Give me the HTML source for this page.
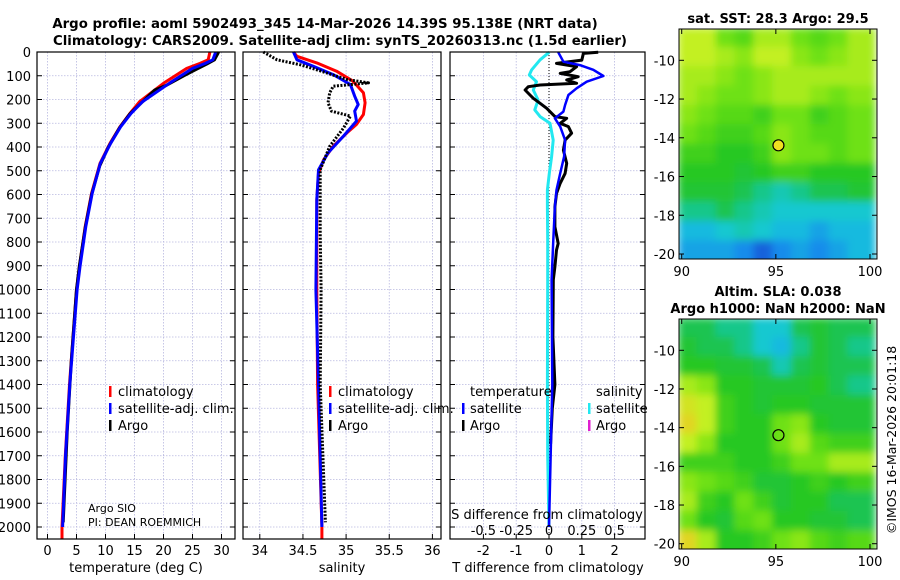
<!DOCTYPE html>
<html><head><meta charset="utf-8">
<style>
html,body{margin:0;padding:0;background:#fff;}
svg{display:block;font-family:"DejaVu Sans","Liberation Sans",sans-serif;}
</style></head>
<body>
<svg id="fig" width="900" height="580" viewBox="0 0 900 580" xmlns="http://www.w3.org/2000/svg">
<defs>
<filter id="blur" x="-10%" y="-10%" width="120%" height="120%"><feGaussianBlur stdDeviation="4" edgeMode="duplicate"/></filter>
<clipPath id="clipA"><rect x="679" y="29" width="198" height="230"/></clipPath>
<clipPath id="clipB"><rect x="679" y="319" width="198" height="230"/></clipPath>
</defs>
<text x="325" y="28" text-anchor="middle" font-size="13.3" font-weight="bold">Argo profile: aoml 5902493_345 14-Mar-2026 14.39S 95.138E (NRT data)</text>
<text x="340" y="45" text-anchor="middle" font-size="13.3" font-weight="bold">Climatology: CARS2009. Satellite-adj clim: synTS_20260313.nc (1.5d earlier)</text>
<text x="778" y="23" text-anchor="middle" font-size="13" font-weight="bold">sat. SST: 28.3 Argo: 29.5</text>
<text x="778" y="296" text-anchor="middle" font-size="13" font-weight="bold">Altim. SLA: 0.038</text>
<text x="778" y="313" text-anchor="middle" font-size="13" font-weight="bold">Argo h1000: NaN h2000: NaN</text>
<text transform="translate(896,440) rotate(-90)" text-anchor="middle" font-size="12.5">©IMOS 16-Mar-2026 20:01:18</text>
<g id="layer"></g>
</svg>
<script>
// ---------- data ----------
const depthTicks=[0,100,200,300,400,500,600,700,800,900,1000,1100,1200,1300,1400,1500,1600,1700,1800,1900,2000];
const tempTicks=[0,5,10,15,20,25,30];
const salTicks=[34,34.5,35,35.5,36];
const salTickLabels=["34","34.5","35","35.5","36"];
const tdiffTicks=[-2,-1,0,1,2];
const sdiffTicks=[-0.5,-0.25,0,0.25,0.5];
const sdiffTickLabels=["-0.5","-0.25","0","0.25","0.5"];

const tClimDepth=[0,33,48,69,132,209,259,315,384,469,595,735,904,1002,1400,1700,2000,2050];
const tClimVal=[28.0,27.7,26.3,24.0,20.0,15.9,14.2,12.5,10.8,9.05,7.6,6.5,5.5,5.0,3.8,3.07,2.5,2.5];
const tSatDepth=[0,33,48,69,132,209,259,315,384,469,595,735,904,1002,1400,1700,2000];
const tSatVal=[29.0,28.5,27.2,25.0,21.0,16.4,14.4,12.6,10.9,9.1,7.7,6.6,5.6,5.1,3.85,3.1,2.6];
const tArgoDepth=[0,10,33,50,75,100,140,160,200,260,320,400,480,600,740,900,1000,1300,1600,1980];
const tArgoVal=[29.5,29.3,28.8,27.5,25.5,23.5,20.5,18.5,16.8,14.2,12.4,10.5,9.0,7.6,6.5,5.5,5.0,4.1,3.4,2.7];

const sClimDepth=[0,18,46,81,123,172,214,263,305,340,397,453,510,622,1002,1400,2000,2050];
const sClimVal=[34.39,34.43,34.66,34.89,35.08,35.20,35.22,35.20,35.12,35.01,34.85,34.74,34.68,34.66,34.66,34.67,34.72,34.72];
const sSatDepth=[0,33,60,95,137,186,221,249,291,354,425,496,622,1002,1400,2000];
const sSatVal=[34.39,34.43,34.62,34.85,35.05,35.10,35.14,35.10,35.12,34.97,34.79,34.68,34.66,34.65,34.68,34.72];
const sArgoDepth=[0,33,54,75,116,130,144,172,214,249,270,320,397,496,763,1002,1400,1980];
const sArgoVal=[34.04,34.20,34.47,34.66,35.01,35.26,34.85,34.81,34.79,34.83,35.05,34.97,34.81,34.70,34.70,34.71,34.70,34.76];

const dTSatDepth=[1,41,55,75,101,125,153,181,223,251,279,314,371,441,511,581,651,792,960,1400,2000];
const dTSatVal=[0.28,0.44,0.94,1.35,1.66,1.15,0.84,0.59,0.49,0.44,0.18,0.34,0.49,0.46,0.34,0.23,0.18,0.13,0.08,0.1,0.0];
const dTArgoDepth=[1,6,34,48,62,83,90,104,118,132,139,146,160,181,195,216,237,272,279,300,314,342,371,413,469,511,553,596,652,736,806,834,904,960,1200,1400,1500,1650];
const dTArgoVal=[1.50,1.05,1.0,0.23,0.84,0.64,0.34,0.89,0.54,0.84,-0.27,-0.63,-0.73,-0.58,-0.48,-0.27,-0.07,0.18,0.54,0.34,0.59,0.69,0.49,0.44,0.54,0.49,0.34,0.23,0.18,0.18,0.28,0.23,0.18,0.13,0.12,0.18,0.1,0.05];
const dSSatDepth=[1,33,75,97,125,160,202,244,272,300,371,441,511,581,651,792,960,1400,1700,2000];
const dSSatVal=[0.002,-0.068,-0.132,-0.15,-0.095,-0.12,-0.083,-0.108,-0.068,0.008,0.032,0.02,0.002,-0.012,-0.012,-0.01,-0.01,-0.012,-0.01,0.0];

const mapLons=[90,91,92,93,94,95,96,97,98,99,100];
const mapLatTop=-8.4, mapLatStep=1;
const sstGrid=[
[0.85,0.85,0.7,0.65,0.8,0.8,0.7,0.65,0.7,0.8],
[0.85,0.85,0.8,0.75,0.85,0.85,0.75,0.7,0.75,0.8],
[0.8,0.8,0.75,0.7,0.75,0.8,0.8,0.8,0.8,0.8],
[0.8,0.75,0.7,0.7,0.75,0.8,0.8,0.75,0.7,0.75],
[0.75,0.7,0.65,0.65,0.6,0.7,0.7,0.6,0.65,0.7],
[0.7,0.65,0.6,0.6,0.65,0.75,0.7,0.65,0.65,0.7],
[0.6,0.6,0.55,0.55,0.6,0.75,0.7,0.7,0.65,0.7],
[0.55,0.55,0.55,0.5,0.55,0.6,0.6,0.55,0.55,0.55],
[0.5,0.5,0.5,0.45,0.4,0.35,0.4,0.45,0.45,0.5],
[0.4,0.4,0.45,0.4,0.35,0.3,0.3,0.3,0.3,0.3],
[0.25,0.25,0.3,0.35,0.3,0.25,0.25,0.2,0.25,0.25],
[0.2,0.2,0.2,0.15,0.08,0.15,0.2,0.15,0.2,0.25]];
const slaGrid=[
[0.45,0.45,0.4,0.4,0.3,0.3,0.45,0.5,0.45,0.45],
[0.5,0.45,0.45,0.4,0.3,0.25,0.4,0.5,0.45,0.4],
[0.55,0.55,0.5,0.5,0.45,0.35,0.45,0.5,0.45,0.45],
[0.8,0.75,0.55,0.55,0.5,0.5,0.5,0.55,0.45,0.4],
[0.9,0.85,0.6,0.55,0.5,0.55,0.55,0.5,0.5,0.5],
[0.95,0.85,0.6,0.55,0.55,0.7,0.75,0.55,0.5,0.5],
[0.85,0.75,0.55,0.55,0.55,0.7,0.8,0.65,0.6,0.6],
[0.6,0.6,0.6,0.55,0.55,0.6,0.7,0.7,0.8,0.8],
[0.75,0.7,0.65,0.6,0.5,0.5,0.55,0.6,0.55,0.6],
[0.8,0.6,0.55,0.7,0.6,0.5,0.55,0.55,0.45,0.45],
[0.7,0.55,0.5,0.65,0.7,0.55,0.55,0.5,0.5,0.45],
[0.95,0.8,0.55,0.55,0.6,0.7,0.75,0.65,0.6,0.65]];
const mapLatTicks=[-10,-12,-14,-16,-18,-20];
const mapLonTicks=[90,95,100];
const argoLon=95.138, argoLat=-14.39;

// ---------- helpers ----------
const NS="http://www.w3.org/2000/svg";
const layer=document.getElementById('layer');
function mk(tag,attrs,parent){const e=document.createElementNS(NS,tag);for(const k in attrs)e.setAttribute(k,attrs[k]);(parent||layer).appendChild(e);return e;}
const PT=52, PB=539;
const yD=d=>PT+d*0.2375;
const xT=t=>47.5+t*5.8;
const xS=s=>259.8+(s-34)*86.3;
const xDT=t=>549+t*32.8;
const xDS=s=>549+s*131.2;

function panel(x0,x1,name){
  const g=mk('g',{});
  
  
  return g;
}
function grid(g,x0,x1,xs){
  xs.forEach(x=>mk('line',{x1:x,x2:x,y1:PT,y2:PB,stroke:'#b8b8e0','stroke-width':0.8,'stroke-dasharray':'1.5,1.5'},g));
  depthTicks.forEach(d=>{const y=yD(d);mk('line',{x1:x0,x2:x1,y1:y,y2:y,stroke:'#b8b8e0','stroke-width':0.8,'stroke-dasharray':'1.5,1.5'},g);
    mk('line',{x1:x0,x2:x0+5,y1:y,y2:y,stroke:'#000'},g);mk('line',{x1:x1-5,x2:x1,y1:y,y2:y,stroke:'#000'},g);});
  xs.forEach(x=>{mk('line',{x1:x,x2:x,y1:PB,y2:PB-5,stroke:'#000'},g);});
}
function frame(g,x0,x1){mk('rect',{x:x0,y:PT,width:x1-x0,height:PB-PT,fill:'none',stroke:'#000','stroke-width':1.2},g);}
function line(g,depths,vals,xf,color,w,name,dash){
  const pts=depths.map((d,i)=>xf(vals[i]).toFixed(1)+','+yD(d).toFixed(1)).join(' ');
  const p=mk('polyline',{points:pts,fill:'none',stroke:color,'stroke-width':w,'stroke-linejoin':'round'},g);
  if(dash)p.setAttribute('stroke-dasharray',dash);
  
  
  return p;
}
function txt(g,x,y,s,size,anchor,name){const t=mk('text',{x:x,y:y,'font-size':size,'text-anchor':anchor||'start'},g);t.textContent=s;
  
  
  return t;}
function legendMark(g,x,y,color){mk('rect',{x:x,y:y-10,width:2.5,height:11,fill:color},g);}

// ---------- panel 1: temperature ----------
const g1=panel(37,235,'temperature-panel');
grid(g1,37,235,tempTicks.map(xT));
line(g1,tClimDepth,tClimVal,xT,'#ff0000',3,'temperature-climatology-line');
line(g1,tArgoDepth,tArgoVal,xT,'#000',3,'temperature-argo-line');
line(g1,tSatDepth,tSatVal,xT,'#0000ff',3,'temperature-satellite-line');
frame(g1,37,235);
depthTicks.forEach(d=>txt(g1,31,yD(d)+5,String(d),13,'end','depth-tick-label'));
tempTicks.forEach(t=>txt(g1,xT(t),555,String(t),13,'middle','temperature-tick-label'));
txt(g1,136,572,'temperature (deg C)',13,'middle','temperature-axis-title');
legendMark(g1,109,396,'#ff0000');txt(g1,118,396,'climatology',13,'start','legend-climatology');
legendMark(g1,109,413,'#0000ff');txt(g1,118,413,'satellite-adj. clim.',13,'start','legend-satellite');
legendMark(g1,109,430,'#000');txt(g1,118,430,'Argo',13,'start','legend-argo');
txt(g1,88,512,'Argo SIO',11,'start','argo-institution');
txt(g1,88,526,'PI: DEAN ROEMMICH',11,'start','argo-pi');

// ---------- panel 2: salinity ----------
const g2=panel(243,441,'salinity-panel');
grid(g2,243,441,salTicks.map(xS));
line(g2,sClimDepth,sClimVal,xS,'#ff0000',3,'salinity-climatology-line');
line(g2,sSatDepth,sSatVal,xS,'#0000ff',3,'salinity-satellite-line');
line(g2,sArgoDepth,sArgoVal,xS,'#000',3,'salinity-argo-line','2,1.5');
frame(g2,243,441);
salTicks.forEach((s,i)=>txt(g2,xS(s),555,salTickLabels[i],13,'middle','salinity-tick-label'));
txt(g2,342,572,'salinity',13,'middle','salinity-axis-title');
legendMark(g2,329,396,'#ff0000');txt(g2,338,396,'climatology',13,'start','legend-climatology');
legendMark(g2,329,413,'#0000ff');txt(g2,338,413,'satellite-adj. clim.',13,'start','legend-satellite');
legendMark(g2,329,430,'#000');txt(g2,338,430,'Argo',13,'start','legend-argo');

// ---------- panel 3: differences ----------
const g3=panel(450,645,'difference-panel');
grid(g3,450,645,tdiffTicks.map(xDT));
mk('line',{x1:xDT(0),x2:xDT(0),y1:PT,y2:PB,stroke:'#000','stroke-width':1,'stroke-dasharray':'1,2'},g3);
line(g3,dSSatDepth,dSSatVal,xDS,'#22e8f0',3,'salinity-diff-satellite-line');
line(g3,dTArgoDepth,dTArgoVal,xDT,'#000',3,'temperature-diff-argo-line');
line(g3,dTSatDepth,dTSatVal,xDT,'#0000ff',2.5,'temperature-diff-satellite-line');
frame(g3,450,645);
tdiffTicks.forEach(t=>txt(g3,xDT(t),555,String(t),13,'middle','tdiff-tick-label'));
txt(g3,548,572,'T difference from climatology',13,'middle','tdiff-axis-title');
txt(g3,547,519,'S difference from climatology',13,'middle','sdiff-axis-title');
sdiffTicks.forEach((s,i)=>txt(g3,xDS(s),535,sdiffTickLabels[i],13,'middle','sdiff-tick-label'));
txt(g3,470,396,'temperature',13,'start','legend-temperature-header');
txt(g3,596,396,'salinity',13,'start','legend-salinity-header');
legendMark(g3,462,413,'#0000ff');txt(g3,470,413,'satellite',13,'start','legend-t-satellite');
legendMark(g3,462,430,'#000');txt(g3,470,430,'Argo',13,'start','legend-t-argo');
legendMark(g3,588,413,'#22e8f0');txt(g3,596,413,'satellite',13,'start','legend-s-satellite');
legendMark(g3,588,430,'#e020d0');txt(g3,596,430,'Argo',13,'start','legend-s-argo');

// ---------- maps ----------
const cmap=[[0,[10,50,200]],[0.15,[25,140,235]],[0.28,[25,200,220]],[0.38,[20,200,160]],[0.46,[30,195,70]],[0.55,[40,200,35]],[0.7,[110,225,20]],[0.85,[195,240,35]],[1,[240,200,30]]];
function color(v){for(let i=1;i<cmap.length;i++){if(v<=cmap[i][0]){const a=cmap[i-1],b=cmap[i];const f=(v-a[0])/(b[0]-a[0]);
  const c=a[1].map((x,k)=>Math.round(x+(b[1][k]-x)*f));return 'rgb('+c.join(',')+')';}}return 'rgb(240,200,30)';}
function drawMap(name,gridData,top,bottom,lat10y,lat20y,clip,filled){
  const g=mk('g',{});
  
  
  const xL=lon=>681.7+(lon-90)*18.83;
  const yL=lat=>lat10y+(-10-lat)*(lat20y-lat10y)/10;
  const cg=mk('g',{'clip-path':'url(#'+clip+')'},g);
  const bg=mk('g',{filter:'url(#blur)'},cg);
  gridData.forEach((row,r)=>row.forEach((v,c)=>{
    const la=mapLatTop-r*mapLatStep;
    const x=xL(mapLons[c]-0.2),y=yL(la+0.1);
    const w=xL(mapLons[c+1]+0.3)-x, h=yL(la-mapLatStep-0.3)-y;
    const cell=mk('rect',{x:x.toFixed(1),y:y.toFixed(1),width:w.toFixed(1),height:h.toFixed(1),fill:color(v)},bg);
    
    
  }));
  mk('rect',{x:679,y:top,width:198,height:bottom-top,fill:'none',stroke:'#000','stroke-width':1},g);
  mapLatTicks.forEach(l=>{const y=yL(l);mk('line',{x1:679,x2:684,y1:y,y2:y,stroke:'#000'},g);mk('line',{x1:872,x2:877,y1:y,y2:y,stroke:'#000'},g);
    txt(g,675,y+5,String(l),13,'end','map-lat-label');});
  mapLonTicks.forEach(l=>{const x=xL(l);mk('line',{x1:x,x2:x,y1:bottom,y2:bottom-5,stroke:'#000'},g);mk('line',{x1:x,x2:x,y1:top,y2:top+5,stroke:'#000'},g);
    txt(g,x,bottom+17,String(l),13,'middle','map-lon-label');});
  const m=mk('circle',{cx:xL(argoLon),cy:yL(argoLat),r:5.5,fill:filled?'#f0e020':'none',stroke:'#000','stroke-width':1.2},g);
  
  
}
drawMap('sst-map',sstGrid,29,259,60.3,254,'clipA',true);
drawMap('sla-map',slaGrid,319,549,350.3,543.7,'clipB',false);
</script>
</body></html>
